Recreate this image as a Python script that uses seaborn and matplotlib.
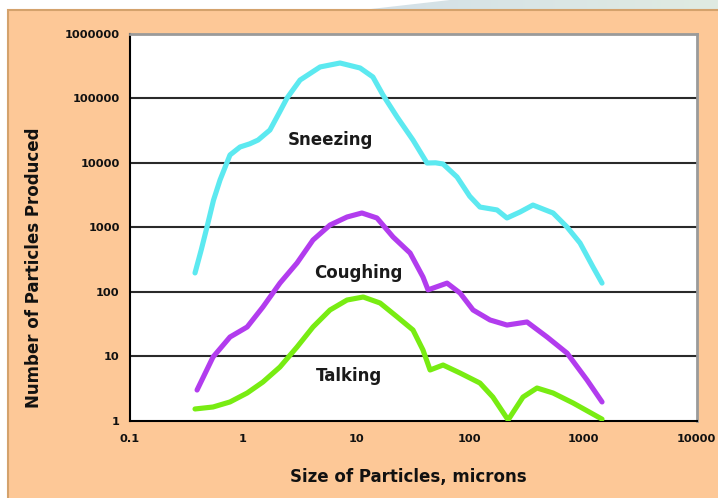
import numpy as np
import pandas as pd
import seaborn as sns
import matplotlib.pyplot as plt
from matplotlib.colors import LinearSegmentedColormap
from matplotlib.patches import Rectangle, Polygon

# values (log-log)
sneeze_size = [0.378, 0.43, 0.482, 0.55, 0.628, 0.769, 0.943, 1.15, 1.36, 1.73, 2.1, 2.45, 3.19,
               4.79, 7.18, 10.8, 14.0, 17.2, 22.9, 31.6, 42.0, 50, 58.2, 77.3, 100, 123, 174, 213,
               278, 361, 543, 721, 939, 1222, 1468]
sneeze_count = [194, 450, 1000, 2600, 5350, 13100, 17400, 19500, 22300, 31900, 60000, 100000,
                190000, 303000, 349000, 292000, 212000, 111000, 50700, 22300, 9820, 9900, 9480,
                5960, 3000, 2040, 1840, 1380, 1710, 2190, 1650, 1000, 565, 240, 135]

cough_size = [0.394, 0.545, 0.769, 1.09, 1.50, 2.12, 3.0, 4.15, 5.86, 8.28, 11.2, 15.2, 21.1,
              29.8, 38.7, 42.9, 63.1, 82.1, 107, 151, 213, 320, 481, 721, 1082, 1468]
cough_count = [2.97, 9.65, 19.7, 28.2, 57.5, 135, 277, 629, 1074, 1430, 1650, 1380, 700, 395,
               168, 106, 135, 94.8, 51.7, 36.2, 30.2, 33.7, 19.7, 11.1, 4.25, 1.94]

talk_size = [0.378, 0.545, 0.769, 1.09, 1.50, 2.12, 3.0, 4.15, 5.86, 8.28, 11.5, 16.2, 23.0,
             31.6, 38.7, 44.7, 58.2, 82.1, 123, 160, 218, 295, 392, 543, 815, 1468]
talk_count = [1.51, 1.62, 1.94, 2.67, 3.95, 6.75, 13.8, 28.2, 51.7, 73.8, 82.2, 66.3, 40.2,
              25.3, 12.4, 6.07, 7.25, 5.45, 3.81, 2.31, 1.02, 2.31, 3.19, 2.67, 1.87, 1.05]

activities = ["Sneezing", "Coughing", "Talking"]
colors = ["#5CE9F0", "#B23CEE", "#78EC12"]
label_x = [5.86, 10.4, 8.6]
label_y = [22300, 194, 4.9]

x_ticks = [0.1, 1, 10, 100, 1000, 10000]
x_labels = ["0.1", "1", "10", "100", "1000", "10000"]
y_ticks = [1, 10, 100, 1000, 10000, 100000, 1000000]
y_labels = ["1", "10", "100", "1000", "10000", "100000", "1000000"]

df = pd.concat([
    pd.DataFrame({"size": sneeze_size, "count": sneeze_count, "activity": "Sneezing"}),
    pd.DataFrame({"size": cough_size, "count": cough_count, "activity": "Coughing"}),
    pd.DataFrame({"size": talk_size, "count": talk_count, "activity": "Talking"}),
], ignore_index=True)

sns.set_style("white")
plt.rcParams["font.family"] = ["DejaVu Sans"]
plt.rcParams["font.weight"] = "bold"

fig = plt.figure(figsize=(7.18, 4.98), dpi=100)

# background: light top strip, peach panel
bg = fig.add_axes([0, 0, 1, 1], zorder=-10)
bg.set_xlim(0, 718)
bg.set_ylim(0, 498)
bg.axis("off")
grad = np.linspace(0, 1, 200).reshape(1, -1)
im = bg.imshow(grad, extent=[360, 718, 486, 498], aspect="auto",
               cmap=LinearSegmentedColormap.from_list("g", ["#D3E0E8", "#E0EBE2"]))
clip = Polygon([[362, 488], [450, 498], [718, 498], [718, 488]], closed=True,
               transform=bg.transData, facecolor="none", edgecolor="none")
bg.add_patch(clip)
im.set_clip_path(clip)
bg.add_patch(Rectangle((8, -5), 720, 493, facecolor="#FDC897", edgecolor="#D4A26C", linewidth=1.5))

ax = fig.add_axes([0.1804, 0.1556, 0.7897, 0.7771])
ax.set_facecolor("white")

sns.lineplot(data=df, x="size", y="count", hue="activity", hue_order=activities,
             palette=colors, sort=False, estimator=None, legend=False,
             linewidth=3.7, ax=ax, zorder=3)
for line in ax.lines:
    line.set_solid_capstyle("round")
    line.set_solid_joinstyle("round")

ax.set_xscale("log")
ax.set_yscale("log")
ax.set_xlim(0.1, 10000)
ax.set_ylim(1, 1000000)
ax.set_xticks(x_ticks)
ax.set_xticklabels(x_labels)
ax.set_yticks(y_ticks)
ax.set_yticklabels(y_labels)
ax.minorticks_off()
ax.tick_params(axis="both", which="major", labelsize=8.2, length=4, width=1.2,
               color="black", direction="out", labelcolor="#111111")
ax.tick_params(axis="x", pad=6)
ax.tick_params(axis="y", pad=3)
for lab in ax.get_xticklabels() + ax.get_yticklabels():
    lab.set_fontweight("bold")

ax.grid(False)
for yv in y_ticks[1:-1]:
    ax.axhline(yv, color="#2a2a2a", linewidth=1.5, zorder=1)

for side in ["left", "bottom"]:
    ax.spines[side].set_color("black")
    ax.spines[side].set_linewidth(1.5)
for side in ["top", "right"]:
    ax.spines[side].set_color("#9a9a9a")
    ax.spines[side].set_linewidth(2)

for name, lx, ly in zip(activities, label_x, label_y):
    ax.text(lx, ly, name, ha="center", va="center", fontsize=12, fontweight="bold",
            color="#1a1a1a", zorder=4)

ax.set_xlabel("Size of Particles, microns", fontsize=12, fontweight="bold", color="#111111")
ax.set_ylabel("Number of Particles Produced", fontsize=12, fontweight="bold", color="#111111")
ax.xaxis.set_label_coords(0.492, -0.123)
ax.yaxis.set_label_coords(-0.153, 0.395)

fig.savefig("out.png", dpi=100)
